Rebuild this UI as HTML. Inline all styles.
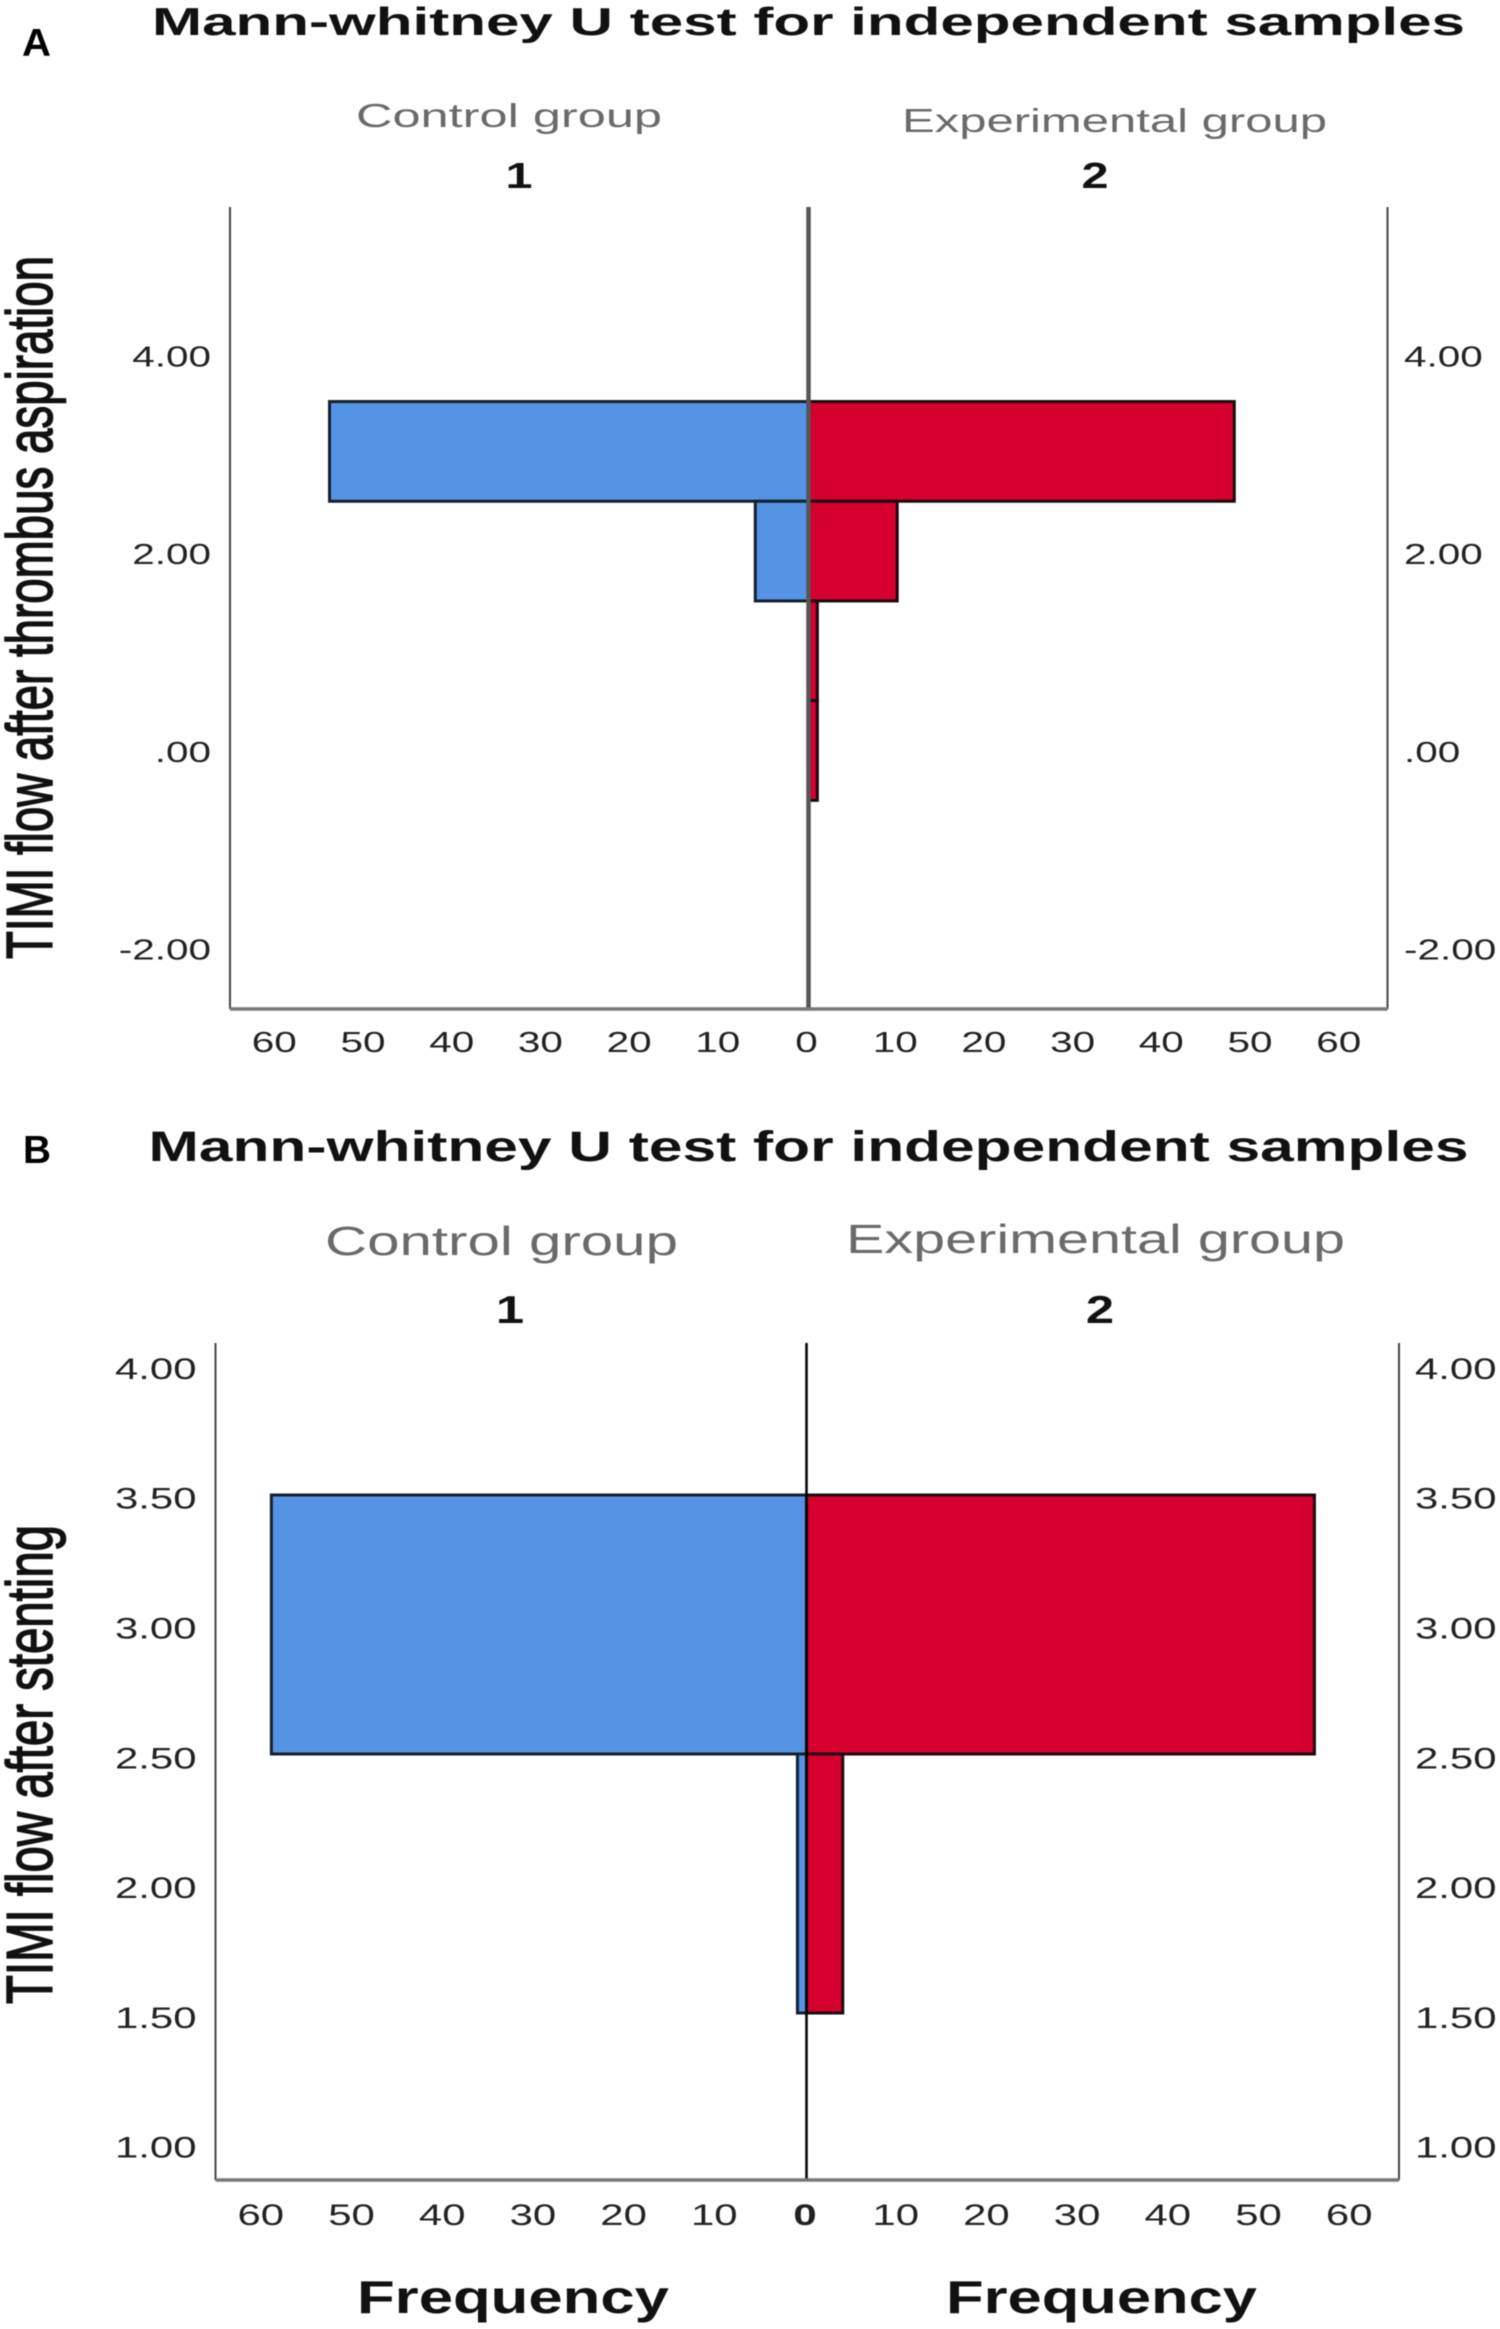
<!DOCTYPE html>
<html lang="en">
<head>
<meta charset="utf-8">
<title>Mann-whitney U test population pyramids</title>
<style>
html,body{margin:0;padding:0;background:#fff;width:1500px;height:2329px;overflow:hidden}
svg{display:block;filter:blur(.6px)}
text{font-family:"Liberation Sans",Arial,sans-serif}
.title{font-size:39px;font-weight:700;fill:#111}
.panel{font-size:39px;font-weight:700;fill:#000}
.ytitle{font-size:65px;font-weight:400;fill:#111;stroke:#111;stroke-width:1.6px}
.group{fill:#6a6a6a}
.num{font-weight:700;fill:#111;text-anchor:middle}
.freq{font-size:46px;font-weight:700;fill:#111}
</style>
</head>
<body>
<svg id="figure" xmlns="http://www.w3.org/2000/svg" width="1500" height="2329" viewBox="0 0 1500 2329">
  <rect x="0" y="0" width="1500" height="2329" fill="#fff"/>

  <g id="panel-a">
    <text class="panel" x="22" y="56" textLength="29" lengthAdjust="spacingAndGlyphs">A</text>
    <text class="title" x="152" y="35" textLength="1313" lengthAdjust="spacingAndGlyphs">Mann-whitney U test for independent samples</text>
    <text class="group" x="356" y="127" font-size="33" textLength="306" lengthAdjust="spacingAndGlyphs">Control group</text>
    <text class="group" x="902" y="132" font-size="33" textLength="425" lengthAdjust="spacingAndGlyphs">Experimental group</text>
    <text class="num" x="519" y="188" font-size="36" transform="translate(519 0) scale(1.35 1) translate(-519 0)">1</text>
    <text class="num" x="1095" y="188" font-size="36" transform="translate(1095 0) scale(1.35 1) translate(-1095 0)">2</text>
    <text class="ytitle" transform="translate(52 959) rotate(-90)" textLength="703" lengthAdjust="spacingAndGlyphs">TIMI flow after thrombus aspiration</text>
  </g>

  <g id="panel-b">
    <text class="panel" x="23" y="1163" textLength="28" lengthAdjust="spacingAndGlyphs">B</text>
    <text class="title" x="148.5" y="1161" style="font-size:43px" textLength="1320" lengthAdjust="spacingAndGlyphs">Mann-whitney U test for independent samples</text>
    <text class="group" x="325" y="1255" font-size="41" textLength="353" lengthAdjust="spacingAndGlyphs">Control group</text>
    <text class="group" x="846" y="1253" font-size="41" textLength="499" lengthAdjust="spacingAndGlyphs">Experimental group</text>
    <text class="num" x="510" y="1323" font-size="39" transform="translate(510 0) scale(1.3 1) translate(-510 0)">1</text>
    <text class="num" x="1100" y="1323" font-size="39" transform="translate(1100 0) scale(1.3 1) translate(-1100 0)">2</text>
    <text class="ytitle" transform="translate(52 2004) rotate(-90)" textLength="479" lengthAdjust="spacingAndGlyphs">TIMI flow after stenting</text>
    <text class="freq" x="357" y="2313" textLength="312" lengthAdjust="spacingAndGlyphs">Frequency</text>
    <text class="freq" x="946" y="2313" textLength="311" lengthAdjust="spacingAndGlyphs">Frequency</text>
  </g>
</svg>

<script>
// Panel A data
const aBins = [3, 2, 1, 0];
const aControl = [54, 6, 0, 0];
const aExperimental = [48, 10, 1, 1];
const aYTicks = [4, 2, 0, -2];
const aYTickLabels = ['4.00', '2.00', '.00', '-2.00'];

// Panel B data
const bBins = [3, 2];
const bControl = [59, 1];
const bExperimental = [56, 4];
const bYTicks = [4, 3.5, 3, 2.5, 2, 1.5, 1];
const bYTickLabels = ['4.00', '3.50', '3.00', '2.50', '2.00', '1.50', '1.00'];

// Shared frequency axis
const freqTicks = [60, 50, 40, 30, 20, 10, 0];

const NS = 'http://www.w3.org/2000/svg';

function drawLine(parent, name, x1, y1, x2, y2, color, width) {
  const el = document.createElementNS(NS, 'line');
  
  
  el.setAttribute('x1', x1);
  el.setAttribute('y1', y1);
  el.setAttribute('x2', x2);
  el.setAttribute('y2', y2);
  el.setAttribute('stroke', color);
  el.setAttribute('stroke-width', width);
  parent.appendChild(el);
}

function drawTick(parent, name, x, y, label, anchor, size, sx, bold) {
  const el = document.createElementNS(NS, 'text');
  
  
  el.setAttribute('transform', 'translate(' + x + ' ' + y + ') scale(' + sx + ' 1)');
  el.setAttribute('text-anchor', anchor);
  el.setAttribute('font-size', size);
  el.setAttribute('fill', '#222');
  if (bold) el.setAttribute('font-weight', '700');
  el.textContent = label;
  parent.appendChild(el);
}

function drawBar(parent, name, x, y, w, h, fill, edge, edgeWidth) {
  const el = document.createElementNS(NS, 'rect');
  
  
  el.setAttribute('x', x);
  el.setAttribute('y', y);
  el.setAttribute('width', w);
  el.setAttribute('height', h);
  el.setAttribute('fill', fill);
  el.setAttribute('stroke', edge);
  el.setAttribute('stroke-width', edgeWidth);
  parent.appendChild(el);
}

function drawPyramid(parent, id, g, bins, control, experimental, yTicks, yLabels) {
  const yOf = v => g.y0 - g.yUnit * v;
  const labelY = v => g.labelY0 - g.labelUnit * v;
  const xLeft = v => g.cx - g.xUnit * v;
  const xRight = v => g.cx + g.xUnit * v;

  // Bars
  bins.forEach((bin, i) => {
    const top = yOf(bin + 0.5);
    const h = g.yUnit;
    if (control[i] > 0) {
      drawBar(parent, 'control-bar-' + id + '-' + bin, xLeft(control[i]), top, g.xUnit * control[i], h, '#5594e5', '#15202b', g.edge);
    }
    if (experimental[i] > 0) {
      drawBar(parent, 'experimental-bar-' + id + '-' + bin, g.cx, top, g.xUnit * experimental[i], h, '#d6002f', '#1a0a0e', g.edge);
    }
  });

  // Axis frame
  drawLine(parent, 'left-axis-' + id, g.left, g.top, g.left, g.bottom, '#444', 2);
  drawLine(parent, 'right-axis-' + id, g.right, g.top, g.right, g.bottom, '#444', 2);
  drawLine(parent, 'center-axis-' + id, g.cx, g.top, g.cx, g.bottom, g.centerColor, g.centerWidth);
  drawLine(parent, 'bottom-axis-' + id, g.left, g.bottom, g.right, g.bottom, '#777', 3.5);

  // Value tick labels, both sides
  yTicks.forEach((tick, i) => {
    const y = labelY(tick);
    drawTick(parent, 'y-tick-left-' + id + '-' + yLabels[i], g.yLabelLeft, y, yLabels[i], 'end', g.tickSize, g.tickScale, false);
    drawTick(parent, 'y-tick-right-' + id + '-' + yLabels[i], g.yLabelRight, y, yLabels[i], 'start', g.tickSize, g.tickScale, false);
  });

  // Frequency tick labels, mirrored around zero
  freqTicks.forEach(tick => {
    const isZero = tick === 0;
    drawTick(parent, 'x-tick-left-' + id + '-' + tick, xLeft(tick) + g.xLabelDx, g.xLabelY, String(tick), 'middle', g.tickSize, g.tickScale, isZero && g.boldZero);
    if (!isZero) {
      drawTick(parent, 'x-tick-right-' + id + '-' + tick, xRight(tick) + g.xLabelDx, g.xLabelY, String(tick), 'middle', g.tickSize, g.tickScale, false);
    }
  });
}

drawPyramid(document.getElementById('panel-a'), 'a', {
  left: 230, right: 1387.5, cx: 808.5, top: 207, bottom: 1009,
  y0: 750.5, yUnit: 99.7, xUnit: 8.87, edge: 3,
  centerColor: '#555', centerWidth: 4.5,
  yLabelLeft: 211, yLabelRight: 1404, labelY0: 761.9, labelUnit: 98.9,
  xLabelY: 1052, xLabelDx: -2,
  tickSize: 28.5, tickScale: 1.42, boldZero: false
}, aBins, aControl, aExperimental, aYTicks, aYTickLabels);

drawPyramid(document.getElementById('panel-b'), 'b', {
  left: 215.5, right: 1399, cx: 806.5, top: 1343, bottom: 2180,
  y0: 2401.5, yUnit: 259, xUnit: 9.07, edge: 3,
  centerColor: '#000', centerWidth: 2.5,
  yLabelLeft: 196.5, yLabelRight: 1415, labelY0: 2417.3, labelUnit: 259.6,
  xLabelY: 2225, xLabelDx: -1.5,
  tickSize: 29.5, tickScale: 1.42, boldZero: true
}, bBins, bControl, bExperimental, bYTicks, bYTickLabels);
</script>
</body>
</html>
